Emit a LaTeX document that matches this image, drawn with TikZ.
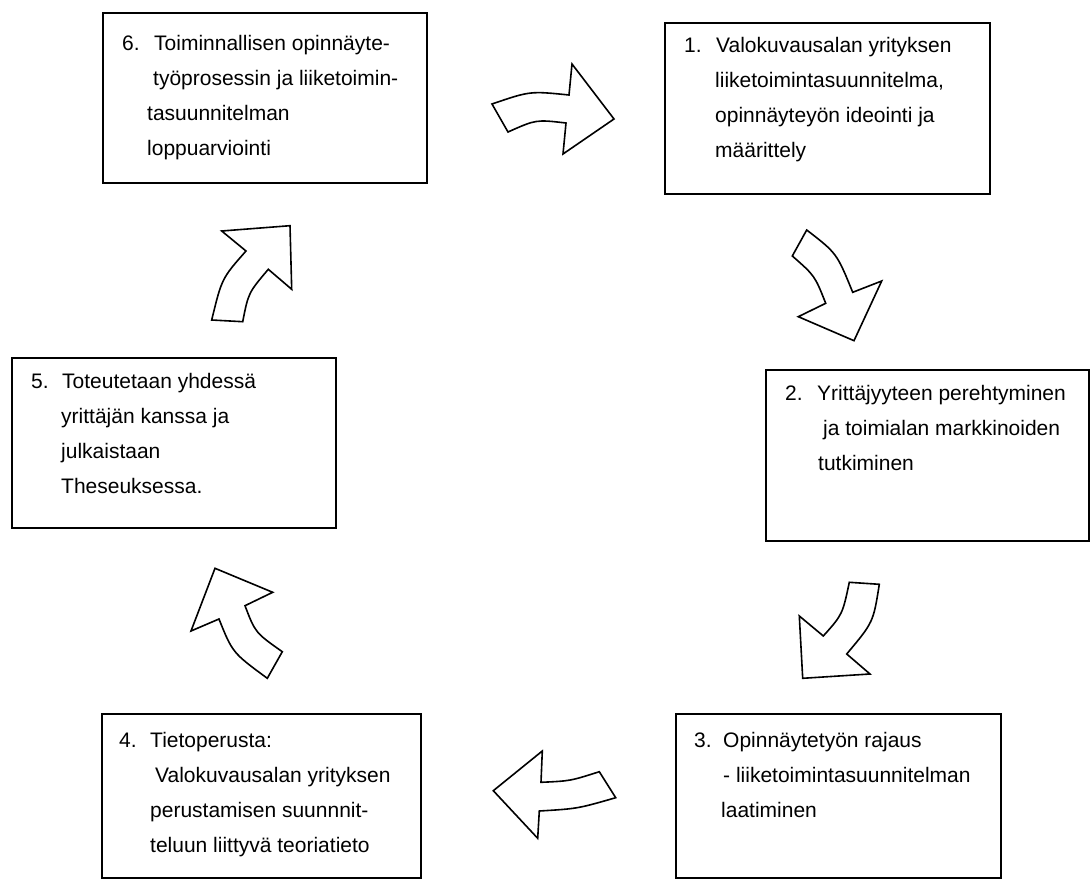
\documentclass[tikz,border=0pt]{standalone}
\usepackage{fontspec}
\setmainfont{Liberation Sans}
\begin{document}
\begin{tikzpicture}[x=1pt,y=-1pt,
  box/.style={draw, line width=1.6pt, rectangle, inner sep=0pt, anchor=north west},
  txt/.style={anchor=base west, inner sep=0pt, font=\fontsize{21}{35}\selectfont},
  arr/.style={draw, fill=white, line width=1.6pt, line join=miter}]
\useasboundingbox (0,0) rectangle (1090,880);
% boxes
\node[box, minimum width=324pt, minimum height=170pt] (b6) at (102,12) {};
\node[box, minimum width=325pt, minimum height=171pt] (b1) at (664,22) {};
\node[box, minimum width=323pt, minimum height=171pt] (b2) at (765,369) {};
\node[box, minimum width=325pt, minimum height=164pt] (b3) at (675,713) {};
\node[box, minimum width=319pt, minimum height=164pt] (b4) at (101,713) {};
\node[box, minimum width=324pt, minimum height=170pt] (b5) at (11,357) {};
% box 6 text
\node[txt] (t6n) at (122,51) {6.};
\node[txt] (t6a) at (154,51) {Toiminnallisen opinnäyte-};
\node[txt] (t6b) at (153,86) {työprosessin ja liiketoimin-};
\node[txt] (t6c) at (147,121) {tasuunnitelman};
\node[txt] (t6d) at (147,156) {loppuarviointi};
% box 1 text
\node[txt] (t1n) at (684,53) {1.};
\node[txt] (t1a) at (716,53) {Valokuvausalan yrityksen};
\node[txt] (t1b) at (715,88) {liiketoimintasuunnitelma,};
\node[txt] (t1c) at (715,123) {opinnäyteyön ideointi ja};
\node[txt] (t1d) at (715,158) {määrittely};
% box 2 text
\node[txt] (t2n) at (785,400) {2.};
\node[txt] (t2a) at (817,400) {Yrittäjyyteen perehtyminen};
\node[txt] (t2b) at (823,435) {ja toimialan markkinoiden};
\node[txt] (t2c) at (818,470) {tutkiminen};
% box 3 text
\node[txt] (t3n) at (694,747) {3.};
\node[txt] (t3a) at (723,747) {Opinnäytetyön rajaus};
\node[txt] (t3b) at (723,782) {- liiketoimintasuunnitelman};
\node[txt] (t3c) at (721,817) {laatiminen};
% box 4 text
\node[txt] (t4n) at (119,747) {4.};
\node[txt] (t4a) at (150,747) {Tietoperusta:};
\node[txt] (t4b) at (155,782) {Valokuvausalan yrityksen};
\node[txt] (t4c) at (150,817) {perustamisen suunnnit-};
\node[txt] (t4d) at (150,852) {teluun liittyvä teoriatieto};
% box 5 text
\node[txt] (t5n) at (31,388) {5.};
\node[txt] (t5a) at (62,388) {Toteutetaan yhdessä};
\node[txt] (t5b) at (61,423) {yrittäjän kanssa ja};
\node[txt] (t5c) at (61,458) {julkaistaan};
\node[txt] (t5d) at (61,493) {Theseuksessa.};
% arrows
\draw[arr] (492,104) .. controls (530,91) .. (569,95) -- (572,64) -- (614,119) -- (563,154) -- (566,123) .. controls (536,119.5) .. (508,132) -- cycle;
\draw[arr] (806.7,230) .. controls (836.8,253.2) .. (852.7,292.3) -- (881.7,281) -- (854,340.7) -- (798.3,316.7) -- (825.7,303.3) .. controls (814.8,275.7) .. (792.3,256) -- cycle;
\draw[arr] (879.3,584.3) .. controls (873.3,622.3) .. (846.7,654) -- (870,674) -- (802.7,678.3) -- (799.3,616) -- (823.3,636) .. controls (842.5,614.5) .. (849.3,582.3) -- cycle;
\draw[arr] (493.3,790.7) -- (542.3,751) -- (541,782.3) .. controls (570.2,781) .. (599.3,771.7) -- (615.7,797.7) .. controls (577.5,808.7) .. (539.3,811) -- (537.7,838.3) -- cycle;
\draw[arr] (215,568.3) -- (272.7,592.3) -- (245,605.7) .. controls (255.3,632.7) .. (282.3,651.7) -- (267.3,678.3) .. controls (232.5,652.7) .. (219,619) -- (191,631) -- cycle;
\draw[arr] (242.7,321.7) .. controls (248.4,292.8) .. (268.3,269.3) -- (291.7,289.3) -- (290,225.7) -- (221.7,231) -- (246,251) .. controls (221.8,278.4) .. (211.7,320) -- cycle;
\end{tikzpicture}
\end{document}
